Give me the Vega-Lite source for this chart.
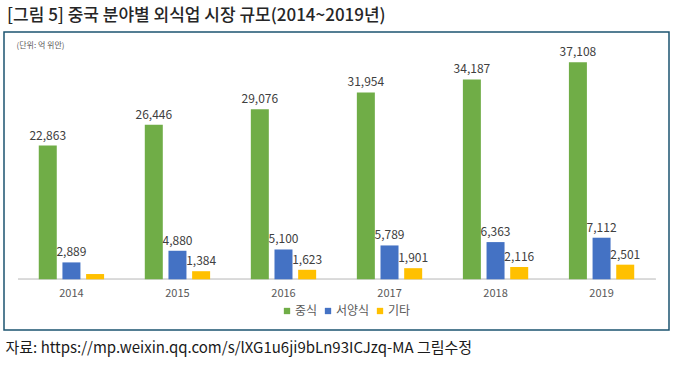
{
  "$schema": "https://vega.github.io/schema/vega-lite/v6.json",
  "autosize": {"type": "none"},
  "padding": {"left": 4, "top": 32, "right": 7, "bottom": 35},
  "width": 665,
  "height": 298,
  "background": "white",
  "config": {
    "font": "Noto Sans CJK KR",
    "view": {"stroke": "#1D5470", "strokeWidth": 1.5}
  },
  "title": {
    "text": "[그림 5] 중국 분야별 외식업 시장 규모(2014~2019년)",
    "orient": "top",
    "anchor": "start",
    "frame": "group",
    "offset": -6,
    "baseline": "alphabetic",
    "dx": 3,
    "fontSize": 17,
    "fontWeight": 500,
    "color": "#262626",
    "font": "Noto Sans CJK KR"
  },
  "data": {
    "values": [
      {"year": "2014", "cat": "중식", "value": 22863},
      {"year": "2014", "cat": "서양식", "value": 2889},
      {"year": "2014", "cat": "기타", "value": 900},
      {"year": "2015", "cat": "중식", "value": 26446},
      {"year": "2015", "cat": "서양식", "value": 4880},
      {"year": "2015", "cat": "기타", "value": 1384},
      {"year": "2016", "cat": "중식", "value": 29076},
      {"year": "2016", "cat": "서양식", "value": 5100},
      {"year": "2016", "cat": "기타", "value": 1623},
      {"year": "2017", "cat": "중식", "value": 31954},
      {"year": "2017", "cat": "서양식", "value": 5789},
      {"year": "2017", "cat": "기타", "value": 1901},
      {"year": "2018", "cat": "중식", "value": 34187},
      {"year": "2018", "cat": "서양식", "value": 6363},
      {"year": "2018", "cat": "기타", "value": 2116},
      {"year": "2019", "cat": "중식", "value": 37108},
      {"year": "2019", "cat": "서양식", "value": 7112},
      {"year": "2019", "cat": "기타", "value": 2501}
    ]
  },
  "encoding": {
    "x": {
      "field": "year",
      "type": "nominal",
      "scale": {"paddingInner": 0.384, "paddingOuter": 0.328},
      "axis": {
        "orient": "bottom",
        "offset": -51,
        "labelAngle": 0,
        "domain": false,
        "ticks": false,
        "labelPadding": 8,
        "labelFontSize": 11,
        "labelColor": "#595959",
        "labelFont": "Noto Sans CJK KR",
        "title": "자료: https://mp.weixin.qq.com/s/lXG1u6ji9bLn93ICJzq-MA 그림수정",
        "titleX": 1,
        "titleY": 73,
        "titleAlign": "left",
        "titleBaseline": "alphabetic",
        "titleFontSize": 15,
        "titleFontWeight": "normal",
        "titleColor": "#1a1a1a",
        "titleFont": "Noto Sans CJK KR"
      }
    },
    "y": {
      "field": "value",
      "type": "quantitative",
      "scale": {"domain": [-8670, 42290], "nice": false, "zero": false},
      "axis": {
        "labels": false,
        "ticks": false,
        "domain": false,
        "grid": false,
        "title": "(단위: 억 위안)",
        "titleAngle": 0,
        "titleX": 12,
        "titleY": 13,
        "titleAlign": "left",
        "titleBaseline": "middle",
        "titleFontSize": 8,
        "titleFontWeight": "normal",
        "titleColor": "#595959"
      }
    }
  },
  "layer": [
    {
      "mark": {"type": "rule", "color": "#D9D9D9", "strokeWidth": 1},
      "encoding": {
        "x": {"datum": "2014", "type": "nominal", "bandPosition": -0.318},
        "x2": {"datum": "2019", "bandPosition": 1.326},
        "y": {"datum": 0, "type": "quantitative"}
      }
    },
    {
      "mark": {"type": "bar", "width": 18},
      "encoding": {
        "xOffset": {
          "field": "cat",
          "type": "nominal",
          "sort": ["중식", "서양식", "기타"],
          "scale": {"paddingInner": 0.24, "paddingOuter": 0}
        },
        "y2": {"datum": 0},
        "color": {
          "field": "cat",
          "type": "nominal",
          "sort": ["중식", "서양식", "기타"],
          "scale": {"domain": ["중식", "서양식", "기타"], "range": ["#70AD47", "#4472C4", "#FFC000"]},
          "legend": {
            "orient": "none",
            "legendX": 277,
            "legendY": 273,
            "direction": "horizontal",
            "title": null,
            "symbolType": "square",
            "symbolSize": 40,
            "symbolStrokeWidth": 0,
            "labelFontSize": 12,
            "labelColor": "#595959",
            "labelFont": "Noto Sans CJK KR",
            "columnPadding": 4,
            "labelOffset": 2
          }
        }
      }
    },
    {
      "transform": [{"filter": "!(datum.year == '2014' && datum.cat == '기타')"}],
      "mark": {"type": "text", "baseline": "alphabetic", "dy": -6, "fontSize": 12, "color": "#404040", "font": "Noto Sans CJK KR"},
      "encoding": {
        "xOffset": {
          "field": "cat",
          "type": "nominal",
          "sort": ["중식", "서양식", "기타"]
        },
        "text": {"field": "value", "type": "quantitative", "format": ",d"}
      }
    }
  ]
}
